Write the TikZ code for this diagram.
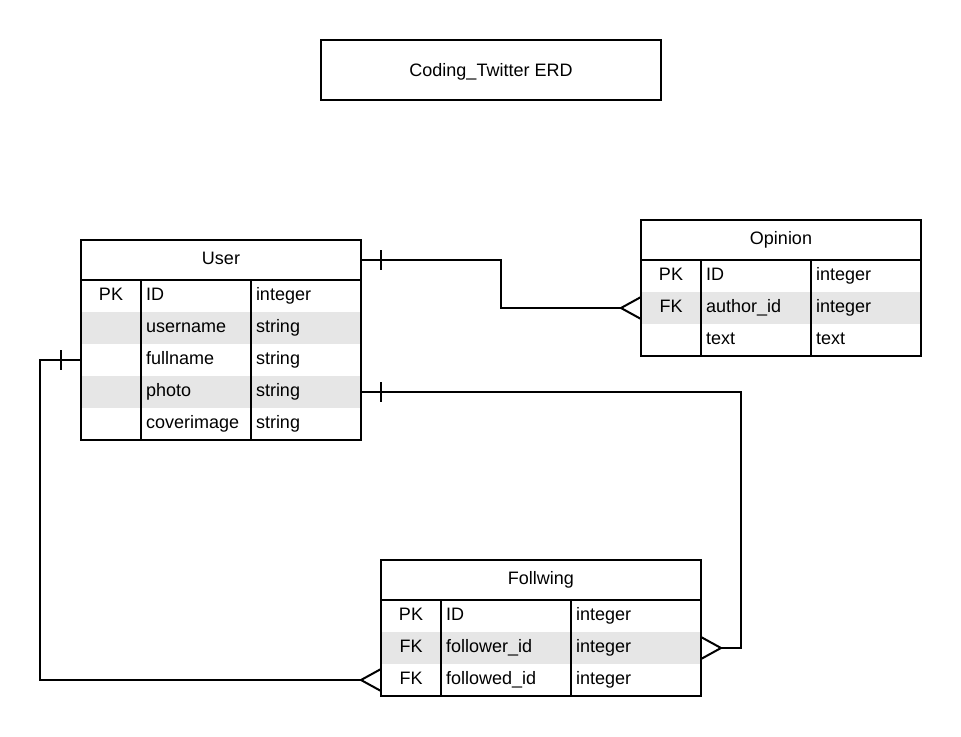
\documentclass[tikz,border=0pt]{standalone}
\usepackage{fontspec}
\setmainfont{Liberation Sans}
\usetikzlibrary{calc}
\definecolor{rowgray}{HTML}{E6E6E6}
\begin{document}
\begin{tikzpicture}[x=0.75pt, y=-0.75pt, line width=1.5pt,
  every node/.style={inner sep=0pt, outer sep=0pt},
  row/.style={anchor=north west, minimum height=24pt},
  head/.style={anchor=north west, minimum height=30pt},
  lbl/.style={anchor=base, font=\fontsize{13.5}{16}\selectfont},
  txt/.style={anchor=base west, font=\fontsize{13.5}{16}\selectfont},
  rel/.style={line width=1.5pt, line join=miter}]

% canvas
\fill[white] (0,0) rectangle (961,736);
\useasboundingbox (0,0) rectangle (961,736);

% title box
\node[draw, anchor=north west, minimum width=255pt, minimum height=45pt] (title) at (321,40) {};
\node[lbl] (titletxt) at (491,76.5) {Coding\_Twitter ERD};

% ---------- User ----------
\foreach \i/\k/\n/\t/\c in {1/PK/ID/integer/white, 2//username/string/rowgray,
    3//fullname/string/white, 4//photo/string/rowgray, 5//coverimage/string/white}{
  \node[row, fill=\c, minimum width=210pt] (urow\i) at (81,{248+32*\i}) {};
  \node[lbl] (ukey\i) at (111,{268.5+32*\i}) {\k};
  \node[txt] (uname\i) at (146,{268.5+32*\i}) {\n};
  \node[txt] (utype\i) at (256,{268.5+32*\i}) {\t};
}
\node[head, minimum width=210pt] (uhead) at (81,240) {};
\node[lbl] (utitle) at (221,264.5) {User};
\draw (uhead.north west) rectangle (urow5.south east);
\draw (uhead.south west) -- (uhead.south east);
\draw (141,280) -- (141,440);
\draw (251,280) -- (251,440);

% ---------- Opinion ----------
\foreach \i/\k/\n/\t/\c in {1/PK/ID/integer/white, 2/FK/author\_id/integer/rowgray,
    3//text/text/white}{
  \node[row, fill=\c, minimum width=210pt] (orow\i) at (641,{228+32*\i}) {};
  \node[lbl] (okey\i) at (671,{248.5+32*\i}) {\k};
  \node[txt] (oname\i) at (706,{248.5+32*\i}) {\n};
  \node[txt] (otype\i) at (816,{248.5+32*\i}) {\t};
}
\node[head, minimum width=210pt] (ohead) at (641,220) {};
\node[lbl] (otitle) at (781,244.5) {Opinion};
\draw (ohead.north west) rectangle (orow3.south east);
\draw (ohead.south west) -- (ohead.south east);
\draw (701,260) -- (701,356);
\draw (811,260) -- (811,356);

% ---------- Follwing ----------
\foreach \i/\k/\n/\t/\c in {1/PK/ID/integer/white, 2/FK/follower\_id/integer/rowgray,
    3/FK/followed\_id/integer/white}{
  \node[row, fill=\c, minimum width=240pt] (frow\i) at (381,{568+32*\i}) {};
  \node[lbl] (fkey\i) at (411,{588.5+32*\i}) {\k};
  \node[txt] (fname\i) at (446,{588.5+32*\i}) {\n};
  \node[txt] (ftype\i) at (576,{588.5+32*\i}) {\t};
}
\node[head, minimum width=240pt] (fhead) at (381,560) {};
\node[lbl] (ftitle) at (541,584.5) {Follwing};
\draw (fhead.north west) rectangle (frow3.south east);
\draw (fhead.south west) -- (fhead.south east);
\draw (441,600) -- (441,696);
\draw (571,600) -- (571,696);

% ---------- relationships ----------
% User -> Opinion (author)
\coordinate (j1a) at (501,260);
\coordinate (j1b) at (501,308);
\coordinate (cf1) at ($(orow2.west)+(-20,0)$);
\draw[rel] (uhead.east) -- (j1a) -- (j1b) -- (cf1);
\draw[rel] ($(uhead.east)+(20,-10)$) -- ($(uhead.east)+(20,10)$);
\draw[rel] ($(orow2.west)+(0,-11)$) -- (cf1) -- ($(orow2.west)+(0,11)$);

% User -> Follwing (follower)
\coordinate (j2a) at (741,392);
\coordinate (j2b) at (741,648);
\coordinate (cf2) at ($(frow2.east)+(20,0)$);
\draw[rel] (urow4.east) -- (j2a) -- (j2b) -- (cf2);
\draw[rel] ($(urow4.east)+(20,-10)$) -- ($(urow4.east)+(20,10)$);
\draw[rel] ($(frow2.east)+(0,-11)$) -- (cf2) -- ($(frow2.east)+(0,11)$);

% User -> Follwing (followed)
\coordinate (j3a) at (40,360);
\coordinate (j3b) at (40,680);
\coordinate (cf3) at ($(frow3.west)+(-20,0)$);
\draw[rel] (urow3.west) -- (j3a) -- (j3b) -- (cf3);
\draw[rel] ($(urow3.west)+(-20,-10)$) -- ($(urow3.west)+(-20,10)$);
\draw[rel] ($(frow3.west)+(0,-11)$) -- (cf3) -- ($(frow3.west)+(0,11)$);
\end{tikzpicture}
\end{document}
